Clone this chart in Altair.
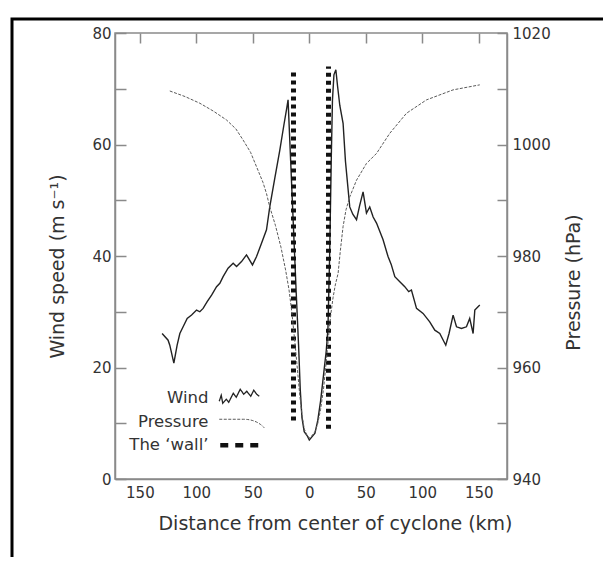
import altair as alt
import pandas as pd

# ---- data ----
wind_km = [-130.3, -125.0, -123.5, -119.9, -117.0, -114.6, -111.7, -108.1, -104.2, -99.8,
           -96.9, -94.0, -90.4, -86.5, -82.1, -79.2, -76.3, -71.9, -67.4, -64.4,
           -60.0, -55.6, -50.3, -46.7, -42.3, -37.9, -35.0, -30.5, -26.1, -22.5,
           -20.0, -18.8, -16.5, -14.0, -11.5, -9.5, -8.0, -6.5, -4.5, -2.0,
           0.0, 2.5, 5.0, 7.5, 10.0, 12.5, 15.0, 16.5, 18.0, 19.5,
           20.5, 21.8, 23.5, 25.0, 27.0, 29.9, 32.0, 35.8, 38.5, 41.8,
           44.5, 47.6, 50.6, 53.5, 56.5, 59.5, 65.3, 69.7, 72.5, 75.7,
           80.1, 84.5, 88.0, 90.4, 94.9, 100.7, 106.6, 111.1, 115.5, 120.8,
           123.7, 127.3, 130.3, 134.7, 139.1, 142.0, 145.0, 146.5, 150.9]
wind_ms = [26.1, 24.9, 24.0, 20.8, 24.0, 26.1, 27.3, 28.8, 29.4, 30.3,
           30.0, 30.6, 31.8, 33.0, 34.5, 35.1, 36.3, 37.8, 38.7, 38.1,
           39.0, 40.2, 38.4, 39.9, 42.3, 44.7, 48.8, 54.0, 59.0, 63.5,
           66.5, 68.0, 57.0, 45.0, 33.0, 24.0, 16.0, 11.0, 8.5, 7.8,
           7.0, 7.6, 8.2, 10.5, 14.0, 18.5, 23.0, 27.0, 40.0, 58.0,
           68.0, 72.5, 73.4, 70.5, 67.0, 63.8, 57.0, 48.8, 47.5, 46.5,
           49.0, 51.5, 47.7, 48.8, 47.0, 45.9, 42.9, 39.9, 38.5, 36.3,
           35.4, 34.5, 33.6, 33.9, 30.6, 29.7, 28.2, 26.7, 26.1, 24.0,
           26.1, 29.4, 27.3, 27.0, 27.3, 28.8, 26.1, 30.3, 31.2]

pres_km = [-123.5, -110.0, -96.9, -85.0, -73.3, -65.0, -58.6, -52.0, -46.7, -41.0,
           -37.9, -35.0, -30.0, -25.0, -21.0, -18.0, -15.5, -12.5, -10.0, -8.4,
           -6.5, -4.5, -2.0, 0.0, 2.5, 5.0, 7.5, 10.0, 12.5, 15.0,
           17.0, 19.0, 21.0, 23.0, 25.5, 27.5, 29.9, 32.5, 35.8, 41.8,
           50.6, 59.5, 71.2, 86.0, 103.7, 127.3, 150.9]
pres_hpa = [1009.6, 1008.6, 1007.4, 1006.0, 1004.4, 1002.8, 1000.8, 998.6, 996.0, 993.2,
            991.2, 988.8, 985.5, 981.5, 977.5, 974.0, 970.0, 964.0, 958.5, 955.0,
            951.5, 949.0, 947.8, 947.4, 947.8, 948.5, 950.0, 952.5, 956.0, 961.0,
            965.5, 969.5, 972.5, 974.8, 976.9, 981.0, 985.3, 988.3, 990.6, 993.6,
            996.6, 998.4, 1002.0, 1005.6, 1008.0, 1009.8, 1010.7]

wall_km = [-14.0, 17.0]
wall_low = [10.5, 9.0]
wall_high = [73.0, 74.0]

series_names = ["Wind", "Pressure", "The \u2018wall\u2019"]
x_ticks = [-150, -100, -50, 0, 50, 100, 150]
wind_labels = [0, 20, 40, 60, 80]
wind_ticks = [0, 10, 20, 30, 40, 50, 60, 70, 80]
pres_labels = [940, 960, 980, 1000, 1020]
pres_ticks = [940, 950, 960, 970, 980, 990, 1000, 1010, 1020]

wind_df = pd.DataFrame({"km": wind_km, "val": wind_ms, "series": series_names[0]})
pres_df = pd.DataFrame({"km": pres_km, "val": pres_hpa, "series": series_names[1]})
wall_df = pd.DataFrame({"km": wall_km, "val": wall_low, "top": wall_high, "series": series_names[2]})

FONT = "DejaVu Sans"
AX = "#8a8a8a"
TXT = "#333333"

x_scale = alt.Scale(domain=[-172, 175], nice=False)
wind_scale = alt.Scale(domain=[0, 80], nice=False)
pres_scale = alt.Scale(domain=[940, 1020], nice=False)

# label axes (no ticks) and inward tick axes (shifted inside the plot)
x_lab_axis = alt.Axis(values=x_ticks, labelExpr="'' + abs(datum.value)", ticks=False,
                      labelPadding=6, title="Distance from center of cyclone (km)",
                      titleX=220, titleY=44, titleBaseline="middle", titleAlign="center",
                      titleFontSize=19)
x_tick_axis = alt.Axis(values=x_ticks, labels=False, domain=False, title=None,
                       tickSize=10, offset=-10)
wind_lab_axis = alt.Axis(values=wind_labels, ticks=False, labelPadding=4,
                         title="Wind speed (m s\u207b\u00b9)",
                         titleX=-58, titleY=233, titleBaseline="middle", titleAlign="center",
                         titleAngle=270, titleFontSize=19, orient="left")
wind_tick_axis = alt.Axis(values=wind_ticks, labels=False, domain=False, title=None,
                          tickSize=11, offset=-11, orient="left")
pres_lab_axis = alt.Axis(values=pres_labels, ticks=False, labelPadding=5, orient="right",
                         format="d", title="Pressure (hPa)", titleX=66, titleY=249,
                         titleBaseline="middle", titleAlign="center",
                         titleAngle=270, titleFontSize=19)
pres_tick_axis = alt.Axis(values=pres_ticks, labels=False, domain=False, title=None,
                          tickSize=10, offset=-10, orient="right")

# legend sample glyphs (unit space, scaled by sqrt(symbolSize)/2 = 5)
wind_path = ("M-4,0.6 L-3.6,-0.6 L-3.3,1.0 L-2.6,0.2 L-2.1,0.8 L-1.2,-1.0 "
             "L-0.6,-0.2 L0.2,-1.8 L0.9,-0.8 L1.5,-1.4 L2.3,-0.4 L2.9,-1.6 "
             "L3.5,-0.8 L4,-0.4")
pres_path = "M-4,-0.5 L0.8,-0.5 Q3.4,-0.5 5,1.2"
wall_path = "M-3.8,0 L3.8,0"


def make_legend(row, path, width, dash, colr):
    return alt.Legend(
        orient="none", legendX=116, legendY=357 + 23.5 * row, title=None, padding=0,
        labelAlign="right", labelOffset={"expr": "-39"}, labelFont=FONT, labelFontSize=16.5,
        labelColor=TXT, symbolSize=100, symbolType=path,
        symbolStrokeWidth=width, symbolDash=dash, symbolFillColor="transparent",
        symbolStrokeColor=colr, symbolOpacity=1)


def make_color(i, colr, legend):
    return alt.Color("series:N", scale=alt.Scale(domain=[series_names[i]], range=[colr]),
                     legend=legend)


wind = alt.Chart(wind_df).mark_line(strokeWidth=1.4).encode(
    x=alt.X("km:Q", scale=x_scale, axis=x_lab_axis),
    y=alt.Y("val:Q", scale=wind_scale, axis=wind_lab_axis),
    color=make_color(0, "#222222", make_legend(0, wind_path, 1.3, [1, 0], "#222222")),
)
wall = alt.Chart(wall_df).mark_rule(strokeWidth=5, strokeDash=[4, 4], strokeCap="butt").encode(
    x=alt.X("km:Q", scale=x_scale, axis=x_tick_axis),
    y=alt.Y("val:Q", scale=wind_scale, axis=wind_tick_axis),
    y2="top:Q",
    color=make_color(2, "#111111", make_legend(2, wall_path, 4.5, [8, 7], "#111111")),
)
pres = alt.Chart(pres_df).mark_line(strokeWidth=1.0, strokeDash=[3, 1.5]).encode(
    x=alt.X("km:Q", scale=x_scale, axis=None),
    y=alt.Y("val:Q", scale=pres_scale, axis=pres_lab_axis),
    color=make_color(1, "#5a5a5a", make_legend(1, pres_path, 1.0, [3, 1.5], "#5a5a5a")),
)
pres_ticks_layer = alt.Chart(pres_df).mark_line(opacity=0).encode(
    x=alt.X("km:Q", scale=x_scale, axis=None),
    y=alt.Y("val:Q", scale=pres_scale, axis=pres_tick_axis),
)

# scanned page border (decoration, extends past the page on right/bottom)
frame = alt.Chart(pd.DataFrame({"k": [0]})).mark_rect(
    fill="transparent", stroke="black", strokeWidth=3).encode(
    x=alt.value(-103), x2=alt.value(620), y=alt.value(-14), y2=alt.value(600))

chart = alt.layer(wind, wall, pres, pres_ticks_layer, frame).resolve_scale(
    y="independent", color="independent"
).resolve_axis(x="independent", y="independent").resolve_legend(color="independent").properties(
    width=392, height=446,
    autosize=alt.AutoSizeParams(type="none"),
    padding={"left": 107, "top": 25, "right": 96, "bottom": 78},
).configure_view(stroke=AX, strokeWidth=1.5).configure_axis(
    domainColor=AX, domainWidth=1.5, tickColor=AX, tickWidth=1.5, grid=False,
    labelFont=FONT, labelFontSize=15, labelColor=TXT,
    titleFont=FONT, titleFontWeight="normal", titleColor=TXT,
)

chart.save("out.html", embed_options={"renderer": "svg", "actions": False})
